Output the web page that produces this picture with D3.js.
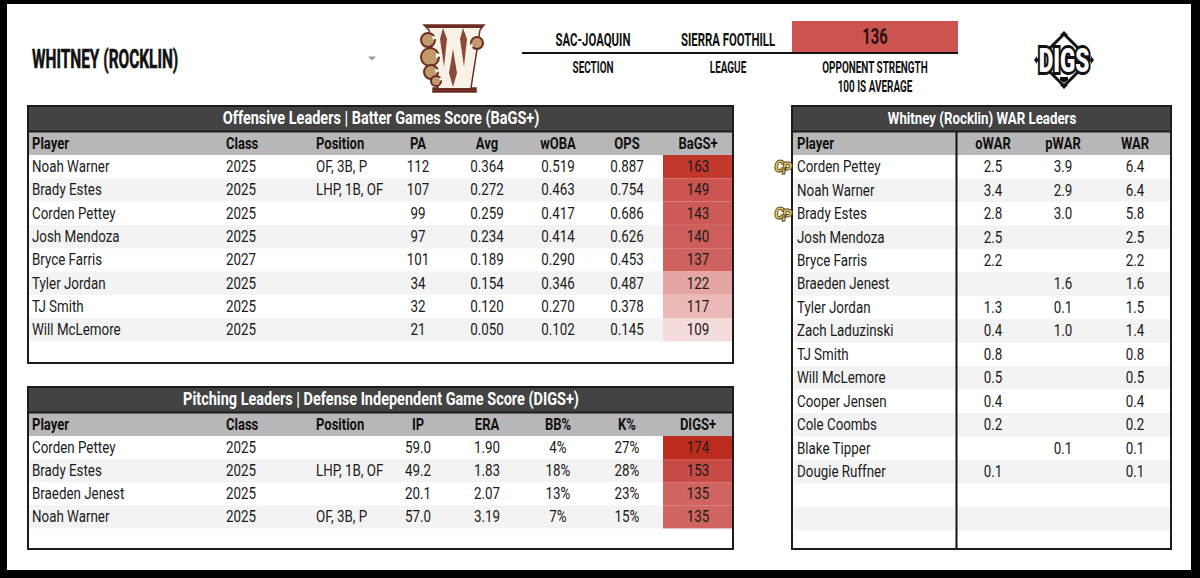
<!DOCTYPE html>
<html lang="en">
<head>
    <meta charset="UTF-8">
    <title>Whitney (Rocklin) leaders</title>
    <script src="https://cdn.jsdelivr.net/npm/d3@7"></script>
    <style>
        html, body { margin: 0; padding: 0; background: #000; overflow: hidden; }
        svg { display: block; }
    </style>
</head>
<body>
<script>

    // header values
    var teamName = "WHITNEY (ROCKLIN)";
    var sectionName = "SAC-JOAQUIN";
    var leagueName = "SIERRA FOOTHILL";
    var opponentStrength = 136;

    // offensive leaders
    var batPlayers = ["Noah Warner", "Brady Estes", "Corden Pettey", "Josh Mendoza", "Bryce Farris", "Tyler Jordan", "TJ Smith", "Will McLemore"];
    var batClass = [2025, 2025, 2025, 2025, 2027, 2025, 2025, 2025];
    var batPosition = ["OF, 3B, P", "LHP, 1B, OF", "", "", "", "", "", ""];
    var batPA = [112, 107, 99, 97, 101, 34, 32, 21];
    var batAvg = [0.364, 0.272, 0.259, 0.234, 0.189, 0.154, 0.120, 0.050];
    var batWoba = [0.519, 0.463, 0.417, 0.414, 0.290, 0.346, 0.270, 0.102];
    var batOps = [0.887, 0.754, 0.686, 0.626, 0.453, 0.487, 0.378, 0.145];
    var batBags = [163, 149, 143, 140, 137, 122, 117, 109];

    // pitching leaders
    var pitPlayers = ["Corden Pettey", "Brady Estes", "Braeden Jenest", "Noah Warner"];
    var pitClass = [2025, 2025, 2025, 2025];
    var pitPosition = ["", "LHP, 1B, OF", "", "OF, 3B, P"];
    var pitIP = [59.0, 49.2, 20.1, 57.0];
    var pitEra = [1.90, 1.83, 2.07, 3.19];
    var pitBB = [4, 18, 13, 7];
    var pitK = [27, 28, 23, 15];
    var pitDigs = [174, 153, 135, 135];

    // WAR leaders
    var warPlayers = ["Corden Pettey", "Noah Warner", "Brady Estes", "Josh Mendoza", "Bryce Farris", "Braeden Jenest", "Tyler Jordan", "Zach Laduzinski", "TJ Smith", "Will McLemore", "Cooper Jensen", "Cole Coombs", "Blake Tipper", "Dougie Ruffner"];
    var warO = [2.5, 3.4, 2.8, 2.5, 2.2, null, 1.3, 0.4, 0.8, 0.5, 0.4, 0.2, null, 0.1];
    var warP = [3.9, 2.9, 3.0, null, null, 1.6, 0.1, 1.0, null, null, null, null, 0.1, null];
    var warTotal = [6.4, 6.4, 5.8, 2.5, 2.2, 1.6, 1.5, 1.4, 0.8, 0.5, 0.4, 0.2, 0.1, 0.1];
    var warBadges = ["Corden Pettey", "Brady Estes"];

    var svg = d3.select("body").append("svg").attr("width", 1200).attr("height", 578);

    svg.append("rect").attr("width", 1200).attr("height", 578).attr("fill", "#000");
    svg.append("rect").attr("x", 7).attr("y", 4).attr("width", 1184).attr("height", 566).attr("fill", "#fff");

    var fmt3 = d3.format(".3f"), fmt1 = d3.format(".1f"), fmt2 = d3.format(".2f");
    var pct = function (d){ return d + "%"; };
    var blank = function (f){ return function (d){ return d == null ? "" : f(d); }; };

    var scoreColor = d3.scaleLinear()
                        .domain([100, 122, 135, 149, 163, 175])
                        .range(["#ffffff", "#e5a5a2", "#cf6461", "#cb5350", "#c2382d", "#bd2a1e"])
                        .clamp(true);

    // text is squeezed sideways since Roboto Condensed is not installed
    function label(g, str, x, y, opt){
        opt = opt || {};
        var sx = opt.squeeze || 0.81;
        return g.append("text")
                .attr("transform", "translate(" + x + "," + y + ") scale(" + sx + ",1)")
                .attr("text-anchor", opt.anchor || "start")
                .attr("dominant-baseline", "central")
                .attr("font-family", opt.font || "Roboto")
                .attr("font-size", (opt.size || 16.5) + "px")
                .attr("font-weight", opt.weight || 400)
                .attr("fill", opt.fill || "#111")
                .text(str);
    }

    function drawTable(cfg){
        var g = svg.append("g");
        var titleH = 25, headH = 24;
        var rowTop = cfg.top + titleH + headH;

        var scaleRow = d3.scaleBand()
                        .domain(d3.range(cfg.rows))
                        .range([rowTop, rowTop + cfg.rows * cfg.rowH]);

        // zebra rows, one run per block of columns
        cfg.blocks.forEach(function (b){
            g.selectAll(null)
                .data(d3.range(cfg.rows).filter(function (i){ return i % 2 == 1; }))
                .enter()
                .append("rect")
                .attr("x", b[0])
                .attr("width", b[1] - b[0])
                .attr("y", function (d){ return scaleRow(d); })
                .attr("height", scaleRow.bandwidth())
                .attr("fill", "#f3f3f3");
        });

        g.append("rect").attr("x", cfg.left).attr("y", cfg.top)
            .attr("width", cfg.right - cfg.left).attr("height", titleH).attr("fill", "#434343");
        g.append("rect").attr("x", cfg.left).attr("y", cfg.top + titleH + 1)
            .attr("width", cfg.right - cfg.left).attr("height", headH - 1).attr("fill", "#b7b7b7");
        g.append("line").attr("x1", cfg.left).attr("x2", cfg.right)
            .attr("y1", cfg.top + titleH + 0.5).attr("y2", cfg.top + titleH + 0.5)
            .attr("stroke", "#1c1c1c").attr("stroke-width", 2);

        label(g, cfg.title, cfg.titleX, cfg.top + titleH / 2 - 0.5, {anchor: "middle", weight: 700, size: cfg.titleSize || 18, fill: "#fff", squeeze: 0.805});

        cfg.columns.forEach(function (col){
            label(g, col.name, col.x, cfg.top + titleH + headH / 2 + 0.5, {anchor: col.anchor, weight: 700, size: 17, squeeze: 0.766});

            // score column gets a coloured cell
            if (col.heat){
                g.selectAll(null)
                    .data(col.values)
                    .enter()
                    .append("rect")
                    .attr("x", col.heat[0])
                    .attr("width", col.heat[1] - col.heat[0])
                    .attr("y", function (d, i){ return scaleRow(i); })
                    .attr("height", scaleRow.bandwidth())
                    .attr("fill", function (d){ return scoreColor(d); });
            }

            col.values.forEach(function (v, i){
                var s = col.format ? col.format(v) : v;
                label(g, s, col.x, scaleRow(i) + scaleRow.bandwidth() / 2, {anchor: col.anchor, fill: "#1a1a1a"});
            });
        });

        if (cfg.divider){
            g.append("line").attr("x1", cfg.divider).attr("x2", cfg.divider)
                .attr("y1", cfg.top + titleH + 1).attr("y2", cfg.bottom)
                .attr("stroke", "#111").attr("stroke-width", 2);
        }

        g.append("rect").attr("x", cfg.left).attr("y", cfg.top)
            .attr("width", cfg.right - cfg.left).attr("height", cfg.bottom - cfg.top)
            .attr("fill", "none").attr("stroke", "#1c1c1c").attr("stroke-width", 2);

        return scaleRow;
    }

    drawTable({
        title: "Offensive Leaders | Batter Games Score (BaGS+)",
        titleX: 381, left: 28, right: 733, top: 106, bottom: 363, rows: 9, rowH: 23.3,
        blocks: [[29, 732]],
        columns: [
            {name: "Player", x: 32, values: batPlayers},
            {name: "Class", x: 226, values: batClass},
            {name: "Position", x: 316, values: batPosition},
            {name: "PA", x: 418, anchor: "middle", values: batPA},
            {name: "Avg", x: 487, anchor: "middle", values: batAvg, format: fmt3},
            {name: "wOBA", x: 558, anchor: "middle", values: batWoba, format: fmt3},
            {name: "OPS", x: 627, anchor: "middle", values: batOps, format: fmt3},
            {name: "BaGS+", x: 698, anchor: "middle", values: batBags, heat: [663, 732]}
        ]
    });

    drawTable({
        title: "Pitching Leaders | Defense Independent Game Score (DIGS+)",
        titleX: 381, left: 28, right: 733, top: 387, bottom: 549, rows: 4, rowH: 23.1,
        blocks: [[29, 732]],
        columns: [
            {name: "Player", x: 32, values: pitPlayers},
            {name: "Class", x: 226, values: pitClass},
            {name: "Position", x: 316, values: pitPosition},
            {name: "IP", x: 418, anchor: "middle", values: pitIP, format: fmt1},
            {name: "ERA", x: 487, anchor: "middle", values: pitEra, format: fmt2},
            {name: "BB%", x: 558, anchor: "middle", values: pitBB, format: pct},
            {name: "K%", x: 627, anchor: "middle", values: pitK, format: pct},
            {name: "DIGS+", x: 698, anchor: "middle", values: pitDigs, heat: [663, 732]}
        ]
    });

    var warRow = drawTable({
        title: "Whitney (Rocklin) WAR Leaders",
        titleX: 982, titleSize: 16.5, left: 792, right: 1171, top: 106, bottom: 549, rows: 17, rowH: 23.45,
        blocks: [[794, 955], [958, 1170]],
        divider: 956.5,
        columns: [
            {name: "Player", x: 797, values: warPlayers},
            {name: "oWAR", x: 993, anchor: "middle", values: warO, format: blank(fmt1)},
            {name: "pWAR", x: 1063, anchor: "middle", values: warP, format: blank(fmt1)},
            {name: "WAR", x: 1135, anchor: "middle", values: warTotal, format: fmt1}
        ]
    });

    // gold CP badges next to the committed players, one text with the P dropped a little
    warBadges.forEach(function (name){
        var i = warPlayers.indexOf(name);
        var y = warRow(i) + warRow.bandwidth() / 2;
        var badge = label(svg, "", 782, y - 1, {anchor: "middle", weight: 900, size: 16, fill: "#e3d37a", squeeze: 1})
            .attr("font-style", "italic")
            .attr("stroke", "#5a4a1a")
            .attr("stroke-width", 0.9)
            .attr("letter-spacing", "-2.5px");
        badge.append("tspan").text("C");
        badge.append("tspan").attr("dy", 2.5).text("P");
    });

    // team title and dropdown arrow
    label(svg, teamName, 32, 59, {weight: 700, size: 26, fill: "#111", squeeze: 0.594})
        .attr("stroke", "#111").attr("stroke-width", 0.6);
    svg.append("path").attr("d", "M368,56.5h8l-4,4z").attr("fill", "#999");

    // section / league strip
    var head = svg.append("g");
    head.append("rect").attr("x", 792).attr("y", 21).attr("width", 166).attr("height", 31).attr("fill", "#cc5450");
    head.append("line").attr("x1", 522).attr("x2", 958).attr("y1", 53).attr("y2", 53).attr("stroke", "#111").attr("stroke-width", 2);
    var headOpt = {anchor: "middle", weight: 700, size: 19, squeeze: 0.6};
    var subOpt = {anchor: "middle", weight: 700, size: 17, squeeze: 0.585};
    label(head, sectionName, 593, 39, headOpt);
    label(head, leagueName, 728, 39, headOpt);
    label(head, opponentStrength, 875, 37, {anchor: "middle", weight: 700, size: 22, squeeze: 0.67, fill: "#2a1210"});
    label(head, "SECTION", 593, 67, subOpt);
    label(head, "LEAGUE", 728, 67, subOpt);
    label(head, "OPPONENT STRENGTH", 875, 67, subOpt);
    label(head, "100 IS AVERAGE", 875, 86, subOpt);

    // Whitney W logo
    var logo = svg.append("g").attr("transform", "translate(400,15)");
    logo.append("path")
        .attr("d", "M24,10H84L80,15L71,73H76V77H33V73H38L29,15Z")
        .attr("fill", "#f8f1e6").attr("stroke", "#6d2c22").attr("stroke-width", 1.5);
    logo.append("path").attr("d", "M24,10H84L82,13H27ZM33,73H76V77H33Z").attr("fill", "#6d2c22");
    logo.append("path").attr("d", "M43,13L47,24L44,52L40,24ZM63,13L67,24L64,52L60,24ZM53,34L57,58L53,72L49,58Z").attr("fill", "#8b4a36");
    logo.selectAll(null)
        .data([[28, 25, 7], [30, 42, 9], [31, 57, 7], [36, 66, 5], [77, 28, 6]])
        .enter()
        .append("circle")
        .attr("cx", function (d){ return d[0]; })
        .attr("cy", function (d){ return d[1]; })
        .attr("r", function (d){ return d[2]; })
        .attr("fill", "#c39a6b").attr("stroke", "#6d2c22").attr("stroke-width", 2);
    logo.append("path").attr("d", "M32,21l7,1l-6,3zM36,38l7,2l-7,3zM35,54l6,1l-5,3zM39,63l5,0l-4,3zM73,32l-5,2l4,-6z").attr("fill", "#fff");

    // DIGS logo
    var digs = svg.append("g").attr("transform", "translate(1064,60)");
    digs.append("path").attr("d", "M0,-26L26,0L0,26L-26,0Z").attr("fill", "#fff").attr("stroke", "#111").attr("stroke-width", 3);
    digs.append("path").attr("d", "M0,-29l4,4h-8zM0,29l-4,-4h8zM-30,0l3,-4v8zM30,0l-3,-4v8z").attr("fill", "#111");
    digs.append("path").attr("d", "M-4,17h8v3l-4,3l-4,-3z").attr("fill", "#111");
    digs.append("text").attr("text-anchor", "middle").attr("dominant-baseline", "central")
        .attr("transform", "scale(0.66,1)")
        .attr("font-family", "Roboto").attr("font-weight", 900).attr("font-size", "34px")
        .attr("fill", "#fff").attr("stroke", "#111").attr("stroke-width", 6).attr("paint-order", "stroke")
        .text("DIGS");
</script>
</body>
</html>
